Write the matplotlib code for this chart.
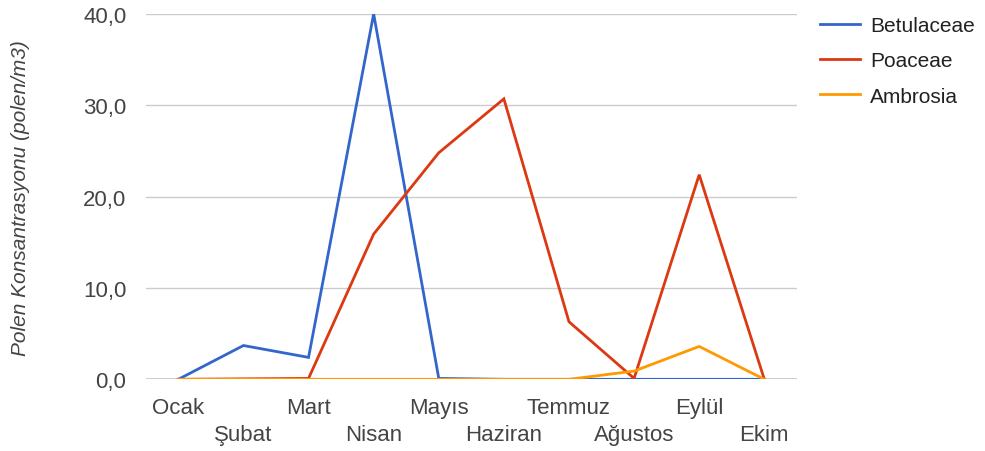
import matplotlib.pyplot as plt

plt.rcParams['font.family'] = ['Liberation Sans', 'DejaVu Sans']

months = ["Ocak", "Şubat", "Mart", "Nisan", "Mayıs", "Haziran",
          "Temmuz", "Ağustos", "Eylül", "Ekim"]
betulaceae = [0.0, 3.7, 2.4, 40.0, 0.1, 0.0, 0.0, 0.0, 0.0, 0.0]
poaceae = [0.0, 0.05, 0.1, 15.9, 24.8, 30.7, 6.3, 0.1, 22.4, 0.0]
ambrosia = [0.0, 0.0, 0.0, 0.0, 0.0, 0.0, 0.0, 0.9, 3.6, 0.0]

series = [("Betulaceae", betulaceae, "#3366cc"),
          ("Poaceae", poaceae, "#dc3912"),
          ("Ambrosia", ambrosia, "#ff9900")]

fig = plt.figure(figsize=(9.85, 4.52), dpi=100)
ax = fig.add_axes([0.148, 0.1586, 0.661, 0.8084])

x = list(range(len(months)))
for name, vals, col in series:
    ax.plot(x, vals, color=col, lw=2, label=name, solid_joinstyle="miter", zorder=3)

ax.set_xlim(-0.5, len(months) - 0.5)
ax.set_ylim(0, 40)
ax.set_yticks([0, 10, 20, 30, 40])
ax.set_yticklabels(["0,0", "10,0", "20,0", "30,0", "40,0"])
ax.grid(axis="y", color="#cccccc", lw=1)
ax.axhline(0, color="#333333", lw=1, zorder=2)
for s in ax.spines.values():
    s.set_visible(False)

# staggered month labels: even months on the first row, odd ones below
ax.set_xticks(x[0::2])
ax.set_xticklabels(months[0::2])
ax.set_xticks(x[1::2], minor=True)
ax.set_xticklabels(months[1::2], minor=True)
ax.tick_params(which="both", length=0, labelsize=16, colors="#444444")
ax.tick_params(axis="x", which="major", pad=13)
ax.tick_params(axis="x", which="minor", pad=32.5)
ax.tick_params(axis="y", pad=14)
ax.set_ylabel("Polen Konsantrasyonu (polen/m3)", style="italic", fontsize=15,
              color="#444444", labelpad=38)

fig.legend(loc="upper left", bbox_to_anchor=(0.8325, 0.962), frameon=False,
           fontsize=15, handlelength=1.9, handletextpad=0.5, labelspacing=0.78,
           borderpad=0, borderaxespad=0, labelcolor="#222222")

fig.savefig("out.png", dpi=100)
